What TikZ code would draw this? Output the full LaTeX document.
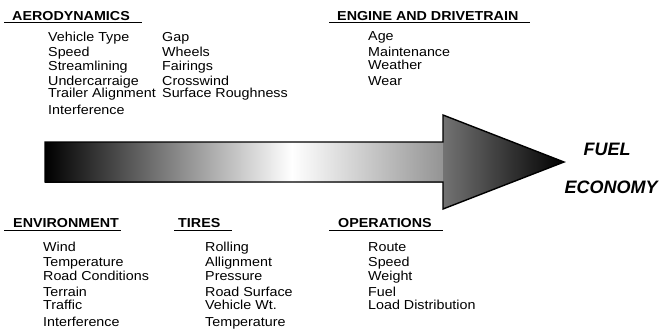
\documentclass[tikz,border=0pt]{standalone}
\usepackage{fontspec}
\setmainfont{Liberation Sans}
\pgfdeclarehorizontalshading{shaftshade}{100bp}{color(0bp)=(black); color(25bp)=(black); color(56bp)=(white); color(75bp)=(black!42); color(100bp)=(black!42)}
\pgfdeclarehorizontalshading{headshade}{100bp}{color(0bp)=(black!55); color(25bp)=(black!55); color(75bp)=(black); color(100bp)=(black)}
\tikzset{
  item/.style={anchor=base west, inner sep=0pt, xscale=1.1, font=\fontsize{13}{13}\selectfont},
  head/.style={anchor=base west, inner sep=0pt, xscale=1.1, font=\fontsize{13}{13}\selectfont\bfseries},
  uline/.style={line width=1pt},
  fuel/.style={anchor=base, inner sep=0pt, font=\fontsize{18}{18}\selectfont\bfseries\itshape},
  outline/.style={line width=1.4pt, line join=miter}
}
\begin{document}
\begin{tikzpicture}[x=1pt,y=-1pt]
\useasboundingbox (0,0) rectangle (663,333);
% arrow
\shade[shading=shaftshade] (45,142) rectangle (443,182);
\shade[shading=headshade] (443,115) -- (564,162) -- (443,209) -- cycle;
\draw[outline] (45,142) -- (443,142) -- (443,115) -- (564,162) -- (443,209) -- (443,182) -- (45,182) -- cycle;
% FUEL ECONOMY
\node[fuel] (fuel) at (607,155.5) {FUEL};
\node[fuel] (economy) at (611,193.5) {ECONOMY};
% Aerodynamics
\node[head] (aero) at (12,20) {AERODYNAMICS};
\draw[uline] (4,22.5) -- (142,22.5);
\node[item] (a1) at (48,41) {Vehicle Type};
\node[item] (a2) at (48,56) {Speed};
\node[item] (a3) at (48,70) {Streamlining};
\node[item] (a4) at (48,85) {Undercarraige};
\node[item] (a5) at (48,97) {Trailer Alignment};
\node[item] (a6) at (48,114) {Interference};
\node[item] (b1) at (162,41) {Gap};
\node[item] (b2) at (162,56) {Wheels};
\node[item] (b3) at (162,70) {Fairings};
\node[item] (b4) at (162,85) {Crosswind};
\node[item] (b5) at (162,97) {Surface Roughness};
% Engine
\node[head] (engine) at (337,20) {ENGINE AND DRIVETRAIN};
\draw[uline] (329,22.5) -- (530,22.5);
\node[item] (e1) at (368,40) {Age};
\node[item] (e2) at (368,56) {Maintenance};
\node[item] (e3) at (368,69) {Weather};
\node[item] (e4) at (368,85) {Wear};
% Environment
\node[head] (env) at (13,227) {ENVIRONMENT};
\draw[uline] (4,230) -- (121,230);
\node[item] (v1) at (43,251) {Wind};
\node[item] (v2) at (43,266) {Temperature};
\node[item] (v3) at (43,280) {Road Conditions};
\node[item] (v4) at (43,296) {Terrain};
\node[item] (v5) at (43,309) {Traffic};
\node[item] (v6) at (43,326) {Interference};
% Tires
\node[head] (tires) at (178,227) {TIRES};
\draw[uline] (174,230) -- (232,230);
\node[item] (t1) at (205,251) {Rolling};
\node[item] (t2) at (205,266) {Allignment};
\node[item] (t3) at (205,280) {Pressure};
\node[item] (t4) at (205,296) {Road Surface};
\node[item] (t5) at (205,309) {Vehicle Wt.};
\node[item] (t6) at (205,326) {Temperature};
% Operations
\node[head] (ops) at (338,227) {OPERATIONS};
\draw[uline] (329,230) -- (443,230);
\node[item] (o1) at (368,251) {Route};
\node[item] (o2) at (368,266) {Speed};
\node[item] (o3) at (368,280) {Weight};
\node[item] (o4) at (368,296) {Fuel};
\node[item] (o5) at (368,309) {Load Distribution};
\end{tikzpicture}
\end{document}
